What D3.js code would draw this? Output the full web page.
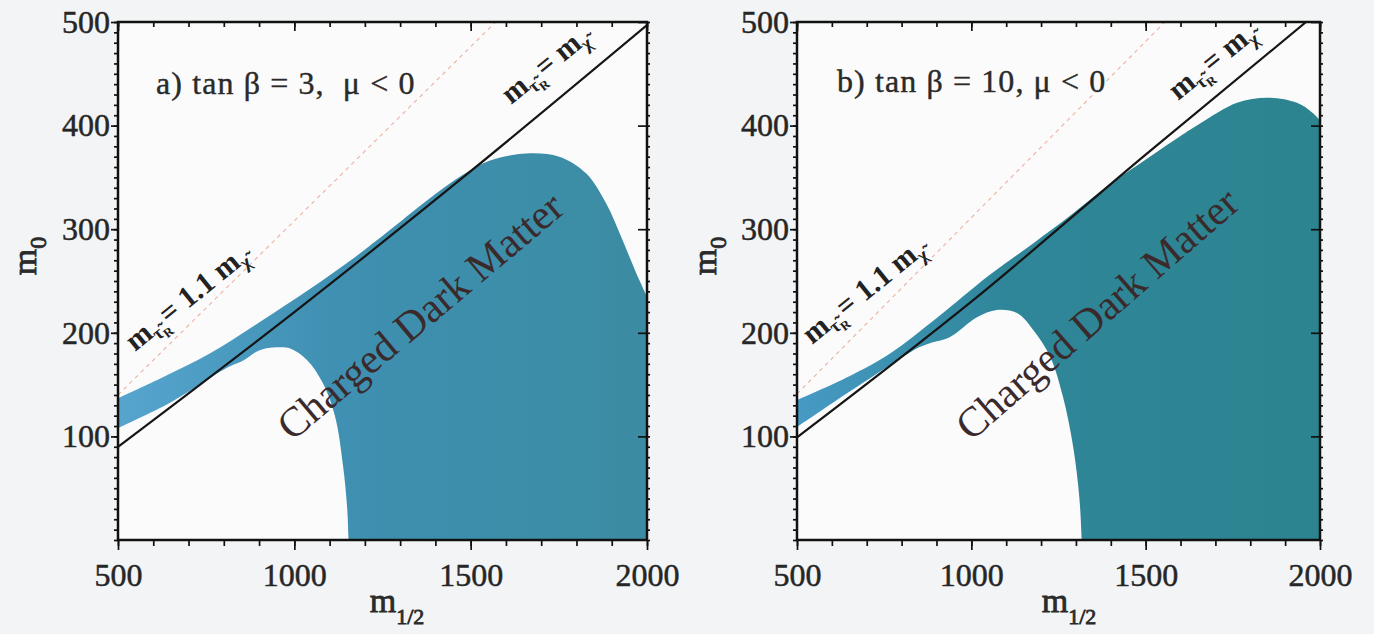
<!DOCTYPE html>
<html>
<head>
<meta charset="utf-8">
<script src="https://cdn.jsdelivr.net/npm/d3@7"></script>
<style>
  html, body { margin: 0; padding: 0; background: #f3f4f5; }
  svg { display: block; }
  text { font-family: "Liberation Serif", "DejaVu Serif", serif; fill: #2a2a2a; }
  .tick line { stroke: #111; stroke-width: 1.7px; }
</style>
</head>
<body>
<svg id="chart" width="1374" height="634"></svg>
<script>
// axis ticks
const xTicks = [500, 1000, 1500, 2000];
const yTicks = [100, 200, 300, 400, 500];

const panelLabels = ["a) tan \u03b2 = 3,  \u03bc < 0", "b) tan \u03b2 = 10, \u03bc < 0"];
const regionLabel = "Charged Dark Matter";

// m_stau = m_chi (solid black)
const eqLineA = [[500, 90], [1000, 220], [1500, 356], [2000, 497]];
const eqLineB = [[500, 99], [1000, 230], [1500, 372], [1960, 500]];
// m_stau = 1.1 m_chi (faint dashed)
const ratioLineA = [[500, 140], [1571, 500]];
const ratioLineB = [[500, 141], [1555, 500]];

// charged dark matter region: upper edge, lower edge (left to right)
const regionTopA = [[500, 137], [620, 156], [760, 180], [900, 210], [1043, 242], [1160, 270], [1270, 299],
  [1400, 334], [1476, 352], [1553, 366], [1657, 373], [1751, 370], [1827, 354], [1884, 325],
  [1930, 290], [1969, 258], [2000, 235]];
const regionLowA = [[500, 108], [650, 133], [808, 166], [854, 173], [900, 183], [950, 186], [987, 185],
  [1035, 174], [1080, 152], [1115, 120], [1138, 72], [1150, 30], [1155, -10], [1160, -30], [2000, -30]];

const regionTopB = [[500, 135], [650, 158], [767, 180], [900, 214], [1053, 256], [1180, 287], [1283, 313],
  [1400, 344], [1512, 370], [1600, 390], [1656, 402], [1762, 422], [1848, 427], [1934, 422], [1980, 412], [2000, 405]];
const regionLowB = [[500, 109], [650, 143], [800, 176], [850, 186], [881, 190], [939, 196], [1016, 215],
  [1073, 222], [1131, 219], [1177, 203], [1226, 177], [1263, 138], [1292, 90], [1310, 40], [1318, -10],
  [1322, -30], [2000, -30]];

const svg = d3.select("#chart");

const panels = [
  { id: "a", left: 118, width: 529, label: panelLabels[0], eq: eqLineA, ratio: ratioLineA,
    top: regionTopA, low: regionLowA, c0: "#57a5cf", c1: "#3f90b2", c2: "#3b8ca2",
    labelPos: [38, 72], eqPos: [393, 83], ratioPos: [17, 330], cdmPos: [174, 420], cdmAngle: -40,
    yTitleX: 36, xTitleX: 279 },
  { id: "b", left: 797, width: 523, label: panelLabels[1], eq: eqLineB, ratio: ratioLineB,
    top: regionTopB, low: regionLowB, c0: "#479ac4", c1: "#2f8699", c2: "#2c8490",
    labelPos: [40, 70], eqPos: [381, 79], ratioPos: [15, 323], cdmPos: [174, 420], cdmAngle: -41,
    yTitleX: 716, xTitleX: 272 }
];

const plotTop = 22, plotH = 518;

panels.forEach((p) => {
  const x = d3.scaleLinear().domain([500, 2000]).range([0, p.width]);
  const y = d3.scaleLinear().domain([0, 500]).range([plotH, 0]);

  const g = svg.append("g").attr("transform", `translate(${p.left},${plotTop})`);

  const defs = svg.append("defs");
  defs.append("clipPath").attr("id", "clip-" + p.id)
    .append("rect").attr("width", p.width).attr("height", plotH);
  const grad = defs.append("linearGradient").attr("id", "grad-" + p.id)
    .attr("x1", "0%").attr("x2", "100%").attr("y1", "0%").attr("y2", "0%");
  grad.append("stop").attr("offset", "0%").attr("stop-color", p.c0);
  grad.append("stop").attr("offset", "40%").attr("stop-color", p.c1);
  grad.append("stop").attr("offset", "100%").attr("stop-color", p.c2);

  g.append("rect").attr("width", p.width).attr("height", plotH).attr("fill", "#fbfbfc");

  const plot = g.append("g").attr("clip-path", `url(#clip-${p.id})`);

  // region: upper edge left->right, then lower edge right->left
  const curve = d3.line().x((d) => x(d[0])).y((d) => y(d[1])).curve(d3.curveCatmullRom.alpha(0.5));
  const topPath = curve(p.top);
  const lowPath = curve(p.low.slice().reverse());
  plot.append("path")
    .attr("d", topPath + lowPath.replace(/^M/, "L") + "Z")
    .attr("fill", `url(#grad-${p.id})`);

  plot.append("path")
    .attr("d", d3.line().x((d) => x(d[0])).y((d) => y(d[1]))(p.ratio))
    .attr("fill", "none")
    .attr("stroke", "#eeb0a0")
    .attr("stroke-width", 1.1)
    .attr("stroke-dasharray", "4 4");

  plot.append("path")
    .attr("d", d3.line().x((d) => x(d[0])).y((d) => y(d[1])).curve(d3.curveMonotoneX)(p.eq))
    .attr("fill", "none")
    .attr("stroke", "#151515")
    .attr("stroke-width", 2.2);

  // axes
  const noLabel = () => "";
  const fmt = d3.format("d");
  const minorY = d3.range(0, 501, 10);
  const minorX = d3.range(500, 2001, 100);

  const styleAxis = (sel) => {
    sel.select(".domain").remove();
    sel.selectAll("text")
      .attr("font-family", "Liberation Serif, serif")
      .attr("font-size", 32)
      .style("fill", "#262626")
      .style("stroke", "#262626")
      .style("stroke-width", "0.5px");
  };

  const axes = g.append("g");
  axes.append("g").call(d3.axisLeft(y).tickValues(minorY).tickSize(4).tickFormat(noLabel)).call(styleAxis);
  axes.append("g").call(d3.axisLeft(y).tickValues(yTicks).tickSize(7).tickPadding(1).tickFormat(fmt)).call(styleAxis);

  axes.append("g").attr("transform", `translate(${p.width},0)`)
    .call(d3.axisRight(y).tickValues(minorY).tickSize(3).tickFormat(noLabel)).call(styleAxis);
  axes.append("g").attr("transform", `translate(${p.width},0)`)
    .call(d3.axisRight(y).tickValues(yTicks).tickSize(-9).tickFormat(noLabel)).call(styleAxis);

  axes.append("g").attr("transform", `translate(0,${plotH})`)
    .call(d3.axisBottom(x).tickValues(minorX).tickSize(6).tickFormat(noLabel)).call(styleAxis);
  axes.append("g").attr("transform", `translate(0,${plotH})`)
    .call(d3.axisBottom(x).tickValues(xTicks).tickSize(10).tickPadding(13).tickFormat(fmt)).call(styleAxis);

  axes.append("g").call(d3.axisTop(x).tickValues(minorX).tickSize(-5).tickFormat(noLabel)).call(styleAxis);
  axes.append("g").call(d3.axisTop(x).tickValues(xTicks).tickSize(-9).tickFormat(noLabel)).call(styleAxis);

  g.append("rect").attr("width", p.width).attr("height", plotH)
    .attr("fill", "none").attr("stroke", "#111").attr("stroke-width", 2.5);

  // panel label
  g.append("text").attr("x", p.labelPos[0]).attr("y", p.labelPos[1])
    .attr("font-size", 32).attr("letter-spacing", 1.1)
    .style("white-space", "pre")
    .style("stroke", "#2a2a2a").style("stroke-width", "0.4px")
    .text(p.label);

  // line labels
  const mLabel = (pos, mid) => {
    const t = g.append("text")
      .attr("transform", `translate(${pos[0]},${pos[1]}) rotate(-39)`)
      .attr("font-size", 30).attr("font-weight", "bold").style("fill", "#222");
    t.append("tspan").text("m");
    t.append("tspan").attr("dy", 6).attr("font-size", 19).text("\u03c4\u0303");
    t.append("tspan").attr("dy", 4).attr("font-size", 13).text("R");
    t.append("tspan").attr("dy", -10).text(mid);
    t.append("tspan").attr("dy", 6).attr("font-size", 19).text("\u03c7\u0303");
  };
  mLabel(p.eqPos, "= m");
  mLabel(p.ratioPos, "= 1.1 m");

  // region label
  g.append("text")
    .attr("transform", `translate(${p.cdmPos[0]},${p.cdmPos[1]}) rotate(${p.cdmAngle})`)
    .attr("font-size", 42).style("fill", "#3b2a2c").text(regionLabel);

  // axis titles
  const yt = svg.append("text")
    .attr("transform", `translate(${p.yTitleX},256) rotate(-90)`)
    .attr("text-anchor", "middle").attr("font-size", 34)
    .style("stroke", "#2a2a2a").style("stroke-width", "0.8px");
  yt.append("tspan").text("m");
  yt.append("tspan").attr("dy", 10).attr("font-size", 24).text("0");

  const xt = g.append("text")
    .attr("x", p.xTitleX).attr("y", 612 - plotTop)
    .attr("text-anchor", "middle").attr("font-size", 34)
    .style("stroke", "#2a2a2a").style("stroke-width", "0.8px");
  xt.append("tspan").text("m");
  xt.append("tspan").attr("dy", 12).attr("font-size", 22).text("1/2");
});
</script>
</body>
</html>
